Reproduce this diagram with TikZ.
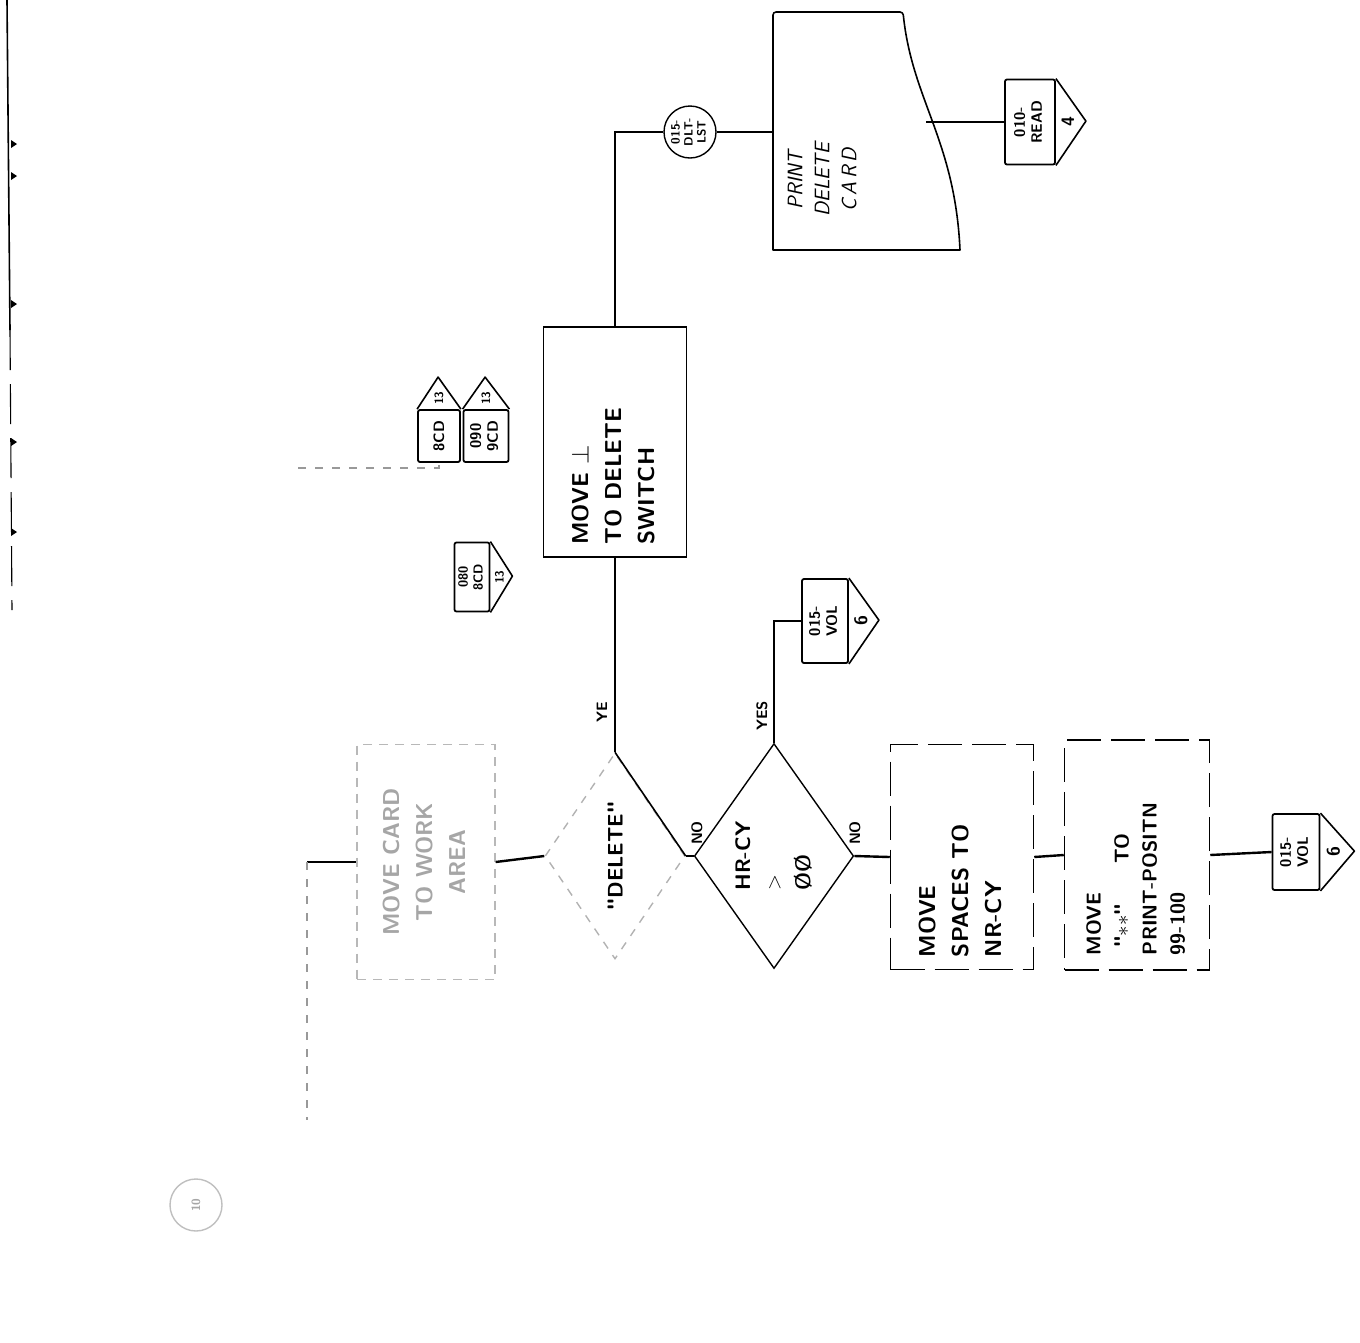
\documentclass[tikz,border=0pt]{standalone}
\usepackage{graphicx}
\usetikzlibrary{shapes.geometric,calc}
\newcommand{\vtext}[2]{\rotatebox{90}{\begin{tabular}{@{}p{#1}@{}}#2\end{tabular}}}
\newcommand{\vcent}[1]{\rotatebox{90}{\begin{tabular}{@{}c@{}}#1\end{tabular}}}
\newcommand{\vleft}[1]{\rotatebox{90}{\begin{tabular}{@{}l@{}}#1\end{tabular}}}

\begin{document}
\begin{tikzpicture}[x=1pt,y=-1pt,
  every node/.style={font=\sffamily\bfseries},
  proc/.style={draw,line width=1.5pt,inner sep=0pt,
               font=\sffamily\bfseries\fontsize{23}{33}\selectfont},
  worn/.style={proc,dash pattern=on 34pt off 10pt},
  decision/.style={draw,diamond,line width=1.4pt,inner sep=0pt,
               font=\sffamily\bfseries\fontsize{21}{30}\selectfont},
  pagebox/.style={draw,line width=1.8pt,inner sep=0pt,rounded corners=2pt,
               font=\sffamily\bfseries\fontsize{15}{17}\selectfont},
  pagenum/.style={inner sep=0pt,font=\sffamily\bfseries\fontsize{18}{18}\selectfont},
  smallnum/.style={inner sep=0pt,font=\sffamily\bfseries\fontsize{12}{12}\selectfont},
  link/.style={draw,circle,line width=1.4pt,inner sep=0pt,minimum size=52pt,
               font=\sffamily\bfseries\fontsize{12}{13}\selectfont},
  outline/.style={line width=1.6pt,line join=round},
  flow/.style={line width=2.4pt},
  lbl/.style={inner sep=0pt,font=\sffamily\bfseries\fontsize{15}{15}\selectfont},
  faded/.style={draw=black!28,text=black!35,line width=1.3pt,dash pattern=on 9pt off 7pt},
  fadedflow/.style={draw=black!40,line width=2pt,dash pattern=on 8pt off 9pt}
]
\useasboundingbox (0,0) rectangle (1360,1342);

% left edge of the sheet
\draw[line width=1.6pt] (7,0) -- (10,330);
\draw[line width=1.1pt,dash pattern=on 40pt off 14pt] (10,330) -- (12,610);
\foreach \yy in {140,172,300,438,528}
  \fill (11,\yy) -- ++(6,4) -- ++(-6,4) -- cycle;

% main column
\node[proc,minimum width=143pt,minimum height=230pt] (setdel) at (615,442)
  {\vtext{205pt}{MOVE $\perp$\\TO DELETE\\SWITCH}};
\node[link] (dltlst) at (690,132) {\vcent{015-\\DLT-\\LST}};

% print document
\draw[outline] (773,250) -- (773,16) [rounded corners=3pt] -- (773,12) -- (903,12)
  [sharp corners] .. controls (912,100) and (955,140) .. (960,250) -- cycle;
\node[inner sep=0pt,font=\sffamily\itshape\fontsize{21}{27}\selectfont] (prtdel) at (824,180)
  {\vcent{PRINT\\DELETE\\C\,A\,R\,D}};
\coordinate (docin) at (773,132);
\coordinate (docout) at (926,122);

\node[pagebox,minimum width=50pt,minimum height=85pt] (read) at (1030,122)
  {\vcent{010-\\READ}};
\draw[outline] (read.north east) -- ++(30,42.5) -- (read.south east);
\node[pagenum] (readnum) at ([xshift=12pt]read.east) {\rotatebox{90}{4}};

\draw[flow] (setdel.north) |- (dltlst.west);
\draw[flow] (dltlst.east) -- (docin);
\draw[flow] (docout) -- (read.west);

% decisions
\node[decision,draw=black!30,dash pattern=on 8pt off 8pt,
      minimum width=140pt,minimum height=206pt] (isdel) at (615,856)
  {\rotatebox{90}{\textquotedbl DELETE\textquotedbl}};
\draw[outline] (isdel.north) -- (isdel.east);
\node[lbl] (yelbl) at (602,712) {\rotatebox{90}{YE}};
\node[lbl] (nolbl) at (697,833) {\rotatebox{90}{NO}};
\draw[flow] (setdel.south) -- (isdel.north);

\node[decision,minimum width=148pt,minimum height=225pt] (chkcy) at (774,856)
  {\vleft{HR-CY\\$>$\\\O\O}};
\node[lbl] (yeslbl) at (762,716) {\rotatebox{90}{YES}};
\node[lbl] (nocy) at (855,833) {\rotatebox{90}{NO}};
\draw[flow] (isdel.east) -- (chkcy.west);

\node[pagebox,minimum width=46pt,minimum height=84pt] (vol1) at (825,621)
  {\vcent{015-\\VOL}};
\draw[outline] (vol1.north east) -- ++(30,42) -- (vol1.south east);
\node[pagenum] (vol1num) at ([xshift=12pt]vol1.east) {\rotatebox{90}{6}};
\draw[flow] (chkcy.north) |- (vol1.west);

% no branch
\node[worn,minimum width=143pt,minimum height=225pt] (spaces) at (962,857)
  {\vtext{200pt}{MOVE\\SPACES TO\\NR-CY}};
\node[worn,minimum width=145pt,minimum height=230pt,
      font=\sffamily\bfseries\fontsize{20}{28}\selectfont] (stars) at (1137,855)
  {\vtext{200pt}{MOVE\\ \ \textquotedbl$\ast\ast$\textquotedbl\qquad TO\\PRINT-POSITN\\99-100}};
\node[pagebox,minimum width=47pt,minimum height=76pt] (vol2) at (1296,852)
  {\vcent{015-\\VOL}};
\draw[outline] (vol2.north east) -- ++(34,38) -- (vol2.south east);
\node[pagenum] (vol2num) at ([xshift=13pt]vol2.east) {\rotatebox{90}{6}};
\draw[flow] (chkcy.east) -- (spaces.west);
\draw[flow] (spaces.east) -- (stars.west);
\draw[flow] (stars.east) -- (vol2.west);

% faded card step on the left
\node[proc,faded,minimum width=138pt,minimum height=235pt] (cardwk) at (426,862)
  {\vcent{MOVE CARD\\TO WORK\\AREA}};
\coordinate (cardin) at (307,862);
\coordinate (cardtail) at (307,1120);
\draw[flow] (cardin) -- (cardwk.west);
\draw[flow] (cardwk.east) -- (isdel.west);
\draw[fadedflow] (cardin) -- (cardtail);

% page connectors at top left
\node[pagebox,minimum width=42pt,minimum height=52pt] (bcd) at (439,436)
  {\rotatebox{90}{8CD}};
\draw[outline] (bcd.north west) -- ++(21,-32) -- (bcd.north east);
\node[smallnum] (bcdnum) at ([yshift=11pt]bcd.north) {\rotatebox{90}{13}};
\node[pagebox,minimum width=45pt,minimum height=52pt] (ncd) at (486,436)
  {\vcent{090\\9CD}};
\draw[outline] (ncd.north west) -- ++(22.5,-32) -- (ncd.north east);
\node[smallnum] (ncdnum) at ([yshift=11pt]ncd.north) {\rotatebox{90}{13}};
\node[pagebox,minimum width=35pt,minimum height=69pt,
      font=\sffamily\bfseries\fontsize{13}{15}\selectfont] (ecd) at (472,577)
  {\vcent{080\\8CD}};
\draw[outline] (ecd.north east) -- ++(22,34.5) -- (ecd.south east);
\node[smallnum] (ecdnum) at ([xshift=9pt]ecd.east) {\rotatebox{90}{13}};
\coordinate (topin) at (298,468);
\draw[fadedflow] (topin) -| (bcd.south);

% faded page link at the bottom
\node[link,draw=black!25,text=black!35] (tenpg) at (196,1205) {\rotatebox{90}{10}};
\end{tikzpicture}
\end{document}
